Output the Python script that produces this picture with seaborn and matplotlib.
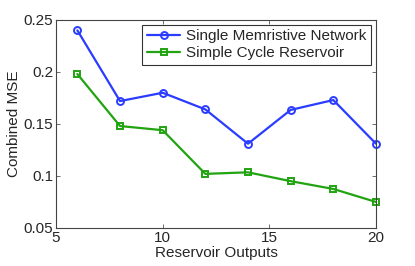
import pandas as pd
import numpy as np
import seaborn as sns
import matplotlib.pyplot as plt

outputs = [6, 8, 10, 12, 14, 16, 18, 20]
memristive = [0.240, 0.172, 0.180, 0.164, 0.131, 0.1635, 0.173, 0.131]
cycle = [0.198, 0.148, 0.144, 0.102, 0.1035, 0.095, 0.0875, 0.075]
names = ["Single Memristive Network", "Simple Cycle Reservoir"]

df = pd.DataFrame({
    "outputs": outputs * 2,
    "mse": memristive + cycle,
    "model": [names[0]] * len(outputs) + [names[1]] * len(outputs),
})

sns.set_style("white")
plt.rcParams['font.family'] = ['Liberation Sans', 'DejaVu Sans']

fig = plt.figure(figsize=(4.15, 2.66), dpi=100)
ax = fig.add_axes([0.135, 0.143, 0.771, 0.782])

ax = sns.lineplot(data=df, x="outputs", y="mse", hue="model", style="model",
                  markers=["o", "s"], dashes=False, ax=ax,
                  palette=["#2a3cff", "#22a311"], linewidth=1.6,
                  markersize=5, markeredgewidth=1.4, clip_on=False)
# hollow markers, edge in line colour
for line in ax.lines:
    line.set_markerfacecolor("none")
    line.set_markeredgecolor(line.get_color())

ax.set_xlim(5, 20)
ax.set_ylim(0.05, 0.25)
ax.set_xticks([5, 10, 15, 20])
ax.set_yticks([0.05, 0.1, 0.15, 0.2, 0.25])
ax.set_yticklabels(["0.05", "0.1", "0.15", "0.2", "0.25"])
ax.set_xlabel("Reservoir Outputs", fontsize=11, labelpad=1)
ax.set_ylabel("Combined MSE", fontsize=11, labelpad=2)
ax.tick_params(direction="in", length=3, width=0.6, labelsize=11,
               bottom=True, left=True, top=True, right=True,
               color="#555555", pad=2)
for s in ax.spines.values():
    s.set_color("#444444")
    s.set_linewidth(0.8)

leg = ax.legend(loc="upper right", fontsize=11, frameon=True, fancybox=False,
                edgecolor="black", borderpad=0.3, handlelength=2.2,
                handletextpad=0.4, labelspacing=0.2, borderaxespad=0.3)
leg.get_frame().set_linewidth(0.8)
for h in leg.legend_handles:
    h.set_markerfacecolor("none")
    h.set_markeredgecolor(h.get_color())

plt.savefig("out.png", dpi=100)
